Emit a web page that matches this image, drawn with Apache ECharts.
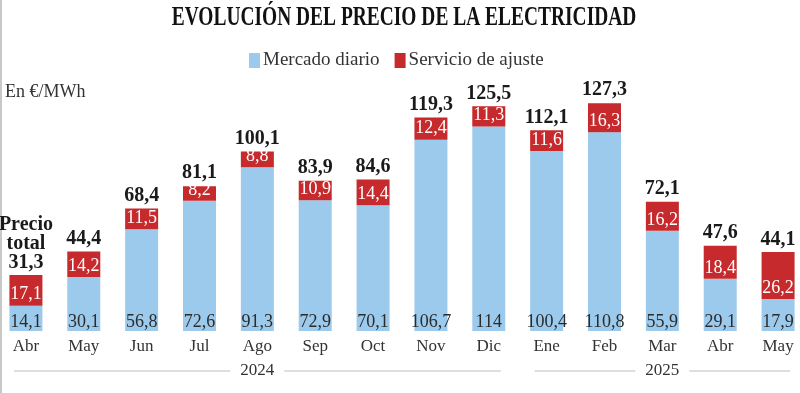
<!DOCTYPE html>
<html>
<head>
<meta charset="utf-8">
<script src="https://cdn.jsdelivr.net/npm/echarts@6/dist/echarts.min.js"></script>
<style>
html,body{margin:0;padding:0;background:#fff;overflow:hidden;width:800px;height:393px;position:relative;}
#main{position:absolute;left:-3px;top:0;width:810px;height:393px;}
</style>
</head>
<body>
<div id="main"></div>
<script>
const months = ['Abr','May','Jun','Jul','Ago','Sep','Oct','Nov','Dic','Ene','Feb','Mar','Abr','May'];
const mercadoDiario = [14.1, 30.1, 56.8, 72.6, 91.3, 72.9, 70.1, 106.7, 114, 100.4, 110.8, 55.9, 29.1, 17.9];
const servicioAjuste = [17.1, 14.2, 11.5, 8.2, 8.8, 10.9, 14.4, 12.4, 11.3, 11.6, 16.3, 16.2, 18.4, 26.2];
const precioTotal = [31.3, 44.4, 68.4, 81.1, 100.1, 83.9, 84.6, 119.3, 125.5, 112.1, 127.3, 72.1, 47.6, 44.1];
const years = [{label:'2024', from:0, to:8}, {label:'2025', from:9, to:13}];

const FONT = '"Liberation Serif", serif';
const fmt = v => String(v).replace('.', ',');
const BLUE = '#9ccaec';
const RED = '#c62a2c';
const OFF = 3; // chart container is shifted 3px left of the page

const chart = echarts.init(document.getElementById('main'));
chart.setOption({
  animation: false,
  textStyle: {fontFamily: FONT},
  grid: {left: 0, right: 0, top: 80, bottom: 62},
  legend: {
    data: ['Mercado diario', 'Servicio de ajuste'],
    top: 46, left: 244 + OFF,
    icon: 'rect', itemWidth: 11, itemHeight: 15, itemGap: 15,
    textStyle: {fontFamily: FONT, fontSize: 19, color: '#333', padding: [0,0,0,-2]}
  },
  xAxis: {
    type: 'category', data: months,
    axisLine: {show: false}, axisTick: {show: false},
    axisLabel: {fontFamily: FONT, fontSize: 17, color: '#333', margin: 7}
  },
  yAxis: {type: 'value', min: 0, max: 140, show: false, splitLine: {show: false}},
  series: [
    {
      name: 'Mercado diario', type: 'bar', stack: 'p', data: mercadoDiario,
      barWidth: 33, itemStyle: {color: BLUE},
      label: {show: true, position: 'insideBottom', distance: 0, fontFamily: FONT, fontSize: 18, color: '#2b2b2b', formatter: p => fmt(p.value)}
    },
    {
      name: 'Servicio de ajuste', type: 'bar', stack: 'p', data: servicioAjuste,
      barWidth: 33, itemStyle: {color: RED},
      label: {show: true, position: 'insideBottom', distance: 2, fontFamily: FONT, fontSize: 18, color: '#fff', formatter: p => fmt(p.value)}
    },
    {
      name: 'Total', type: 'bar', data: precioTotal, barWidth: 33, barGap: '-100%', z: 1,
      itemStyle: {color: 'rgba(0,0,0,0)'},
      label: {show: true, position: 'top', distance: 3, fontFamily: FONT, fontSize: 20, fontWeight: 'bold', color: '#1a1a1a', lineHeight: 19,
        formatter: p => p.dataIndex === 0 ? 'Precio\ntotal\n' + fmt(p.value) : fmt(p.value)}
    }
  ]
});

function drawExtras(){
  const els = [
    {type: 'line', shape: {x1: 1 + OFF, y1: 0, x2: 1 + OFF, y2: 393}, style: {stroke: '#c8c8c8', lineWidth: 2}},
    {type: 'text', x: 404 + OFF, y: 18, scaleX: 0.72, originX: 0, originY: 0,
      style: {text: 'EVOLUCIÓN DEL PRECIO DE LA ELECTRICIDAD', font: 'bold 27px ' + FONT, fill: '#111', textAlign: 'center', textVerticalAlign: 'middle'}},
    {type: 'text', x: 5 + OFF, y: 92, style: {text: 'En €/MWh', font: '18px ' + FONT, fill: '#333', textVerticalAlign: 'middle'}}
  ];
  const yLine = 371;
  years.forEach(yr => {
    const a = chart.convertToPixel({xAxisIndex: 0}, yr.from) - 12;
    const b = chart.convertToPixel({xAxisIndex: 0}, yr.to) + 12;
    const c = (a + b) / 2;
    els.push({type: 'line', shape: {x1: a, y1: yLine, x2: c - 27, y2: yLine}, style: {stroke: '#bdbdbd', lineWidth: 1}});
    els.push({type: 'line', shape: {x1: c + 27, y1: yLine, x2: b, y2: yLine}, style: {stroke: '#bdbdbd', lineWidth: 1}});
    els.push({type: 'text', x: c, y: yLine, style: {text: yr.label, font: '17px ' + FONT, fill: '#333', textAlign: 'center', textVerticalAlign: 'middle'}});
  });
  chart.setOption({graphic: els});
}
drawExtras();
</script>
</body>
</html>
